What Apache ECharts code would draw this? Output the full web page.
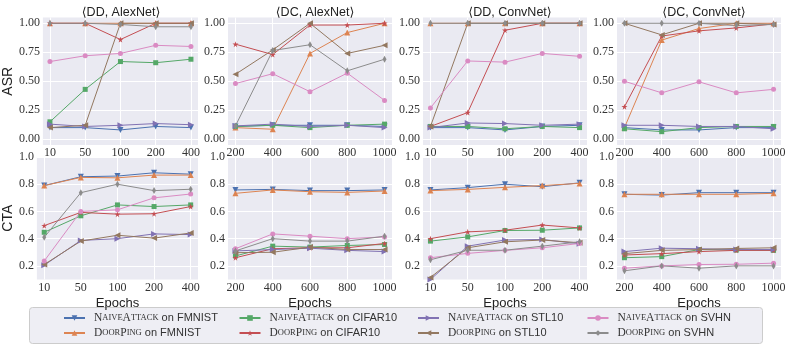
<!DOCTYPE html>
<html>
<head>
<meta charset="utf-8">
<script src="https://cdn.jsdelivr.net/npm/echarts@6/dist/echarts.min.js"></script>
<style>html,body{margin:0;padding:0;background:#fff}#c{width:789px;height:346px}</style>
</head>
<body>
<div id="c"></div>
<script>
// ---- data ----
const xLabelsDD = ['10', '50', '100', '200', '400'];
const xLabelsDC = ['200', '400', '600', '800', '1000'];
const panelTitles = ['⟨DD, AlexNet⟩', '⟨DC, AlexNet⟩', '⟨DD, ConvNet⟩', '⟨DC, ConvNet⟩'];
const seriesNames = [
  'NaiveAttack on FMNIST', 'DoorPing on FMNIST',
  'NaiveAttack on CIFAR10', 'DoorPing on CIFAR10',
  'NaiveAttack on STL10', 'DoorPing on STL10',
  'NaiveAttack on SVHN', 'DoorPing on SVHN'
];
const asrTicks = [0, 0.25, 0.5, 0.75, 1.0];
const ctaTicks = [0.2, 0.4, 0.6, 0.8, 1.0];

// rows follow seriesNames order
const asrDDAlexNet = [
  [0.10, 0.10, 0.08, 0.11, 0.10],
  [1.00, 1.00, 1.00, 1.00, 1.00],
  [0.15, 0.43, 0.67, 0.66, 0.69],
  [1.00, 1.00, 0.86, 1.00, 1.00],
  [0.13, 0.11, 0.12, 0.135, 0.125],
  [0.10, 0.12, 1.00, 1.00, 1.00],
  [0.67, 0.72, 0.74, 0.81, 0.80],
  [1.00, 1.00, 0.99, 0.97, 0.97]
];
const asrDCAlexNet = [
  [0.11, 0.12, 0.12, 0.12, 0.11],
  [0.10, 0.086, 0.74, 0.92, 1.00],
  [0.11, 0.12, 0.10, 0.12, 0.13],
  [0.82, 0.73, 0.985, 0.985, 1.00],
  [0.115, 0.13, 0.11, 0.12, 0.10],
  [0.56, 0.77, 1.00, 0.74, 0.81],
  [0.48, 0.565, 0.41, 0.57, 0.335],
  [0.115, 0.765, 0.815, 0.59, 0.69]
];
const asrDDConvNet = [
  [0.10, 0.10, 0.08, 0.11, 0.12],
  [1.00, 1.00, 1.00, 1.00, 1.00],
  [0.11, 0.11, 0.09, 0.11, 0.10],
  [0.11, 0.23, 0.94, 1.00, 1.00],
  [0.10, 0.14, 0.135, 0.12, 0.13],
  [0.11, 1.00, 1.00, 1.00, 1.00],
  [0.27, 0.675, 0.665, 0.74, 0.715],
  [1.00, 1.00, 1.00, 1.00, 1.00]
];
const asrDCConvNet = [
  [0.10, 0.08, 0.08, 0.10, 0.10],
  [0.10, 0.855, 0.955, 1.00, 1.00],
  [0.09, 0.065, 0.10, 0.11, 0.11],
  [0.28, 0.89, 0.935, 0.96, 0.995],
  [0.12, 0.12, 0.11, 0.11, 0.09],
  [1.00, 0.90, 1.00, 1.00, 0.99],
  [0.50, 0.40, 0.495, 0.40, 0.43],
  [1.00, 1.00, 1.00, 0.98, 0.99]
];
const ctaDDAlexNet = [
  [0.79, 0.855, 0.86, 0.884, 0.874],
  [0.79, 0.85, 0.847, 0.867, 0.867],
  [0.447, 0.568, 0.648, 0.636, 0.648],
  [0.496, 0.593, 0.58, 0.583, 0.636],
  [0.205, 0.387, 0.40, 0.435, 0.43],
  [0.21, 0.382, 0.425, 0.404, 0.442],
  [0.236, 0.60, 0.612, 0.70, 0.728],
  [0.41, 0.738, 0.80, 0.753, 0.763]
];
const ctaDCAlexNet = [
  [0.758, 0.762, 0.753, 0.753, 0.758],
  [0.733, 0.758, 0.745, 0.74, 0.75],
  [0.273, 0.345, 0.338, 0.35, 0.357],
  [0.26, 0.326, 0.333, 0.333, 0.365],
  [0.31, 0.32, 0.33, 0.314, 0.305],
  [0.297, 0.30, 0.338, 0.32, 0.32],
  [0.326, 0.435, 0.418, 0.40, 0.413],
  [0.31, 0.40, 0.382, 0.382, 0.418]
];
const ctaDDConvNet = [
  [0.758, 0.775, 0.80, 0.782, 0.81],
  [0.753, 0.762, 0.777, 0.79, 0.806],
  [0.382, 0.413, 0.46, 0.462, 0.479],
  [0.40, 0.45, 0.462, 0.50, 0.479],
  [0.10, 0.345, 0.39, 0.394, 0.362],
  [0.115, 0.333, 0.377, 0.39, 0.37],
  [0.26, 0.292, 0.314, 0.333, 0.365],
  [0.245, 0.315, 0.315, 0.345, 0.377]
];
const ctaDCConvNet = [
  [0.726, 0.72, 0.738, 0.738, 0.738],
  [0.726, 0.726, 0.726, 0.726, 0.733],
  [0.26, 0.268, 0.32, 0.316, 0.314],
  [0.28, 0.29, 0.305, 0.314, 0.314],
  [0.305, 0.33, 0.326, 0.32, 0.32],
  [0.29, 0.314, 0.32, 0.328, 0.333],
  [0.183, 0.20, 0.21, 0.212, 0.22],
  [0.164, 0.20, 0.183, 0.20, 0.20]
];

// ---- styling ----
const colors = ['#4C72B0', '#DD8452', '#55A868', '#C44E52', '#8172B3', '#937860', '#DA8BC3', '#8C8C8C'];
const star = 'path://M50,0 L61,35 L98,35 L68,57 L79,91 L50,70 L21,91 L32,57 L2,35 L39,35 Z';
const symbols = [
  {symbol: 'triangle', size: 6, rot: 180},
  {symbol: 'triangle', size: 6, rot: 0},
  {symbol: 'rect', size: 5, rot: 0},
  {symbol: star, size: 6, rot: 0},
  {symbol: 'triangle', size: 6, rot: -90},
  {symbol: 'triangle', size: 6, rot: 90},
  {symbol: 'circle', size: 5, rot: 0},
  {symbol: 'diamond', size: [4, 7], rot: 0}
];

const rowData = [
  [asrDDAlexNet, asrDCAlexNet, asrDDConvNet, asrDCConvNet],
  [ctaDDAlexNet, ctaDCAlexNet, ctaDDConvNet, ctaDCConvNet]
];
const colXLabels = [xLabelsDD, xLabelsDC, xLabelsDD, xLabelsDC];

const lefts = [34, 228, 423, 617];
const W = 164;
const rowTop = [17.5, 157];
const rowH = [127.5, 122.5];

const serifFont = 'Liberation Serif, DejaVu Serif, serif';
const sansFont = 'Liberation Sans, DejaVu Sans, sans-serif';
const tickFont = {fontFamily: serifFont, fontSize: 12, color: '#333'};

const grids = [], xAxes = [], yAxes = [], series = [];
let gi = 0;
for (let r = 0; r < 2; r++) {
  for (let c = 0; c < 4; c++) {
    grids.push({left: lefts[c], top: rowTop[r], width: W, height: rowH[r], show: true,
      backgroundColor: '#EAEAF2', borderWidth: 0, containLabel: false});
    const labels = colXLabels[c];
    const idx = labels.map((_, i) => i);
    xAxes.push({
      type: 'value', gridIndex: gi, min: -0.2, max: 4.2,
      axisLine: {show: false},
      axisTick: {show: false, customValues: idx},
      axisLabel: Object.assign({customValues: idx, margin: 2,
        formatter: v => labels[Math.round(v)]}, tickFont),
      splitLine: {show: true, lineStyle: {color: '#fff', width: 1}},
      name: r === 1 ? 'Epochs' : '', nameLocation: 'middle', nameGap: 17,
      nameTextStyle: {fontFamily: sansFont, fontSize: 13, color: '#222'}
    });
    const ticks = r === 0 ? asrTicks : ctaTicks;
    yAxes.push({
      type: 'value', gridIndex: gi,
      min: r === 0 ? -0.05 : 0.1, max: r === 0 ? 1.05 : 1.0,
      axisLine: {show: false},
      axisTick: {show: false, customValues: ticks},
      axisLabel: Object.assign({customValues: ticks, margin: 3,
        formatter: v => r === 0 ? v.toFixed(2) : v.toFixed(1)}, tickFont),
      splitLine: {show: true, lineStyle: {color: '#fff', width: 1}},
      name: c === 0 ? (r === 0 ? 'ASR' : 'CTA') : '',
      nameLocation: 'middle', nameGap: 15,
      nameTextStyle: {fontFamily: sansFont, fontSize: 14, color: '#222'}
    });
    const data = rowData[r][c];
    for (let s = 0; s < 8; s++) {
      series.push({
        type: 'line', name: seriesNames[s], xAxisIndex: gi, yAxisIndex: gi,
        data: data[s].map((v, i) => [i, v]),
        symbol: symbols[s].symbol, symbolSize: symbols[s].size, symbolRotate: symbols[s].rot,
        showSymbol: true, animation: false, clip: false,
        lineStyle: {color: colors[s], width: 1},
        itemStyle: {color: colors[s]},
        emphasis: {disabled: true}
      });
    }
    gi++;
  }
}

const titles = panelTitles.map((t, c) => ({
  text: t, left: lefts[c] + W / 2, textAlign: 'center', top: 1,
  textStyle: {fontFamily: sansFont, fontSize: 12.5, fontWeight: 'normal', color: '#222'}
}));

function legendFmt(name) {
  const parts = name.split(' on ');
  const m = parts[0] === 'NaiveAttack'
    ? '{b|N}{s|AIVE}{b|A}{s|TTACK}'
    : '{b|D}{s|OOR}{b|P}{s|ING}';
  return '{p|}' + m + '{r| on ' + parts[1] + '}';
}
const legendRich = {
  p: {width: 4},
  b: {fontFamily: serifFont, fontSize: 11.5, color: '#333'},
  s: {fontFamily: serifFont, fontSize: 8.5, color: '#333'},
  r: {fontFamily: sansFont, fontSize: 11, color: '#333'}
};
const legendLefts = [63, 238.5, 417, 586.5];
const legends = legendLefts.map((l, c) => ({
  orient: 'vertical', left: l, top: 312, itemWidth: 21, itemHeight: 7, itemGap: 3,
  padding: 0,
  data: [seriesNames[2 * c], seriesNames[2 * c + 1]],
  formatter: legendFmt,
  textStyle: {rich: legendRich, color: '#333'}
}));

const chart = echarts.init(document.getElementById('c'), null, {renderer: 'canvas'});
chart.setOption({
  backgroundColor: '#fff',
  animation: false,
  title: titles,
  grid: grids, xAxis: xAxes, yAxis: yAxes, series: series,
  legend: legends,
  graphic: [{type: 'rect', z: -1, shape: {x: 29.5, y: 307.5, width: 733, height: 36, r: 3},
    style: {fill: '#EEEEF4', stroke: '#CCCCCC', lineWidth: 1}}]
});
</script>
</body>
</html>
